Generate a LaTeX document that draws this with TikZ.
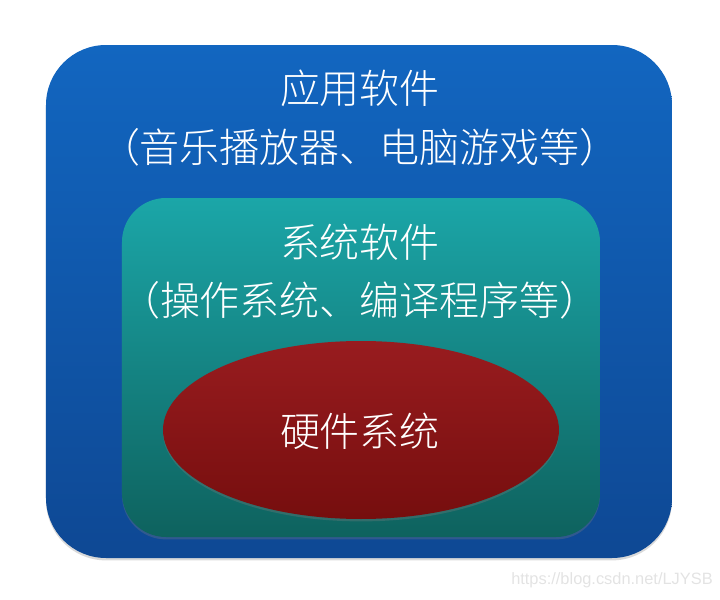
\documentclass[tikz,border=0pt]{standalone}
\usepackage{fontspec}
\newfontfamily\cjk{Noto Sans CJK SC Light}
\newfontfamily\wmfont{Liberation Sans}
\usetikzlibrary{shadows}

\definecolor{apptop}{RGB}{18,102,192}
\definecolor{appbot}{RGB}{14,72,148}
\definecolor{systop}{RGB}{27,166,168}
\definecolor{sysbot}{RGB}{14,98,94}
\definecolor{hwtop}{RGB}{152,28,31}
\definecolor{hwbot}{RGB}{118,14,14}

\begin{document}
\begin{tikzpicture}[x=0.5pt,y=-0.5pt,
  layer/.style={drop shadow={shadow xshift=0pt,shadow yshift=-1.2pt,opacity=0.3}},
  txt/.style={text=white,font=\cjk\fontsize{20}{24}\selectfont,inner sep=0pt},
  wm/.style={text=black!11,font=\wmfont\fontsize{8.2}{10}\selectfont,inner sep=0pt}]

\useasboundingbox (0,0) rectangle (720,600);

% application software
\path[layer,top color=apptop,bottom color=appbot,rounded corners=30pt] (46,45) rectangle (672,558);
% system software
\path[layer,top color=systop,bottom color=sysbot,rounded corners=22pt] (122,198) rectangle (600,537);
% hardware
\path[layer,top color=hwtop,bottom color=hwbot] (361,430) ellipse [x radius=198,y radius=89];

\node[txt] (app) at (360,88) {应用软件};
\node[txt] (appex) at (360,147) {（音乐播放器、电脑游戏等）};
\node[txt] (sys) at (360,242) {系统软件};
\node[txt] (sysex) at (360,300) {（操作系统、编译程序等）};
\node[txt] (hw) at (360,431) {硬件系统};
\node[wm] (mark) at (612,580) {https://blog.csdn.net/LJYSB};
\end{tikzpicture}
\end{document}
